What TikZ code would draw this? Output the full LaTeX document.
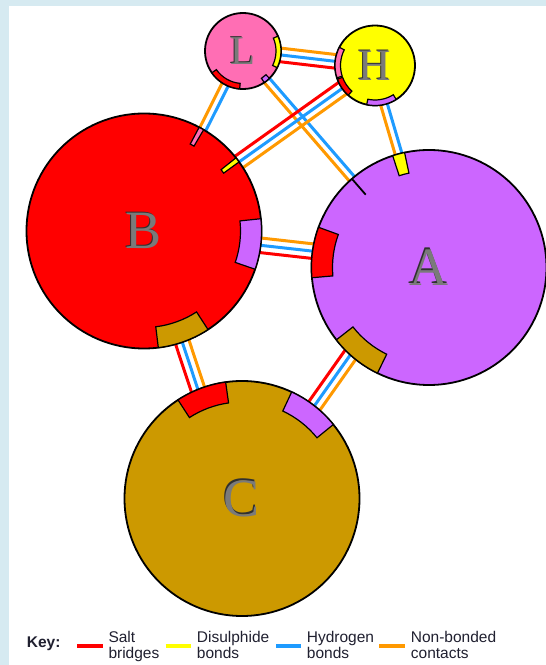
\documentclass[tikz,border=0pt]{standalone}
\usepackage{fontspec}
\setmainfont{Liberation Serif}
\setsansfont{Liberation Sans}
\usetikzlibrary{calc,backgrounds}
\definecolor{frameblue}{HTML}{D6EAF1}
\definecolor{sred}{HTML}{FF0000}
\definecolor{dyellow}{HTML}{FFFF00}
\definecolor{hblue}{HTML}{1E9BFF}
\definecolor{nborange}{HTML}{FF9900}
\definecolor{lpink}{HTML}{FF6EB4}
\definecolor{apurple}{HTML}{CC66FF}
\definecolor{cbrown}{HTML}{CC9900}
\definecolor{letgray}{HTML}{7A7A7A}
\definecolor{letdark}{HTML}{303030}
\definecolor{keytext}{HTML}{202030}
\tikzset{
  chain/.style={circle, draw=black, line width=1.8pt, inner sep=0pt, outer sep=0pt},
  bondline/.style={line width=3pt, shorten <=-4pt, shorten >=-4pt},
  patchst/.style={draw=black, line width=1.2pt},
  letfront/.style={text=letgray, inner sep=0pt},
  letshadow/.style={text=letdark, inner sep=0pt},
  keyline/.style={line width=4pt},
  keytxt/.style={font=\sffamily\fontsize{15.5}{16}\selectfont, text=keytext, inner sep=0pt, anchor=base west},
}
\newcommand\bond[4]{\draw[bondline, #3] ($(#1)!#4pt!90:(#2)$) -- ($(#2)!#4pt!-90:(#1)$);}
\newcommand\patch[6]{\filldraw[patchst, fill=#6] ($(#1)+({#3}:{#2})$) arc[start angle={#3}, end angle={#4}, radius={#2}] -- ($(#1)+({#4}:{#2-#5})$) arc[start angle={#4}, end angle={#3}, radius={#2-#5}] -- cycle;}
\newcommand\biglet{\fontsize{54}{54}\selectfont}
\begin{document}
\begin{tikzpicture}[x=1pt,y=1pt]
\useasboundingbox (0,0) rectangle (546,665);
% chains
\node[chain, fill=lpink, minimum size=76pt] (L) at (243,614) {};
\node[chain, fill=dyellow, minimum size=80pt] (H) at (375,599.5) {};
\node[chain, fill=sred, minimum size=235pt] (B) at (144,434) {};
\node[chain, fill=apurple, minimum size=235pt] (A) at (429,397.5) {};
\node[chain, fill=cbrown, minimum size=235pt] (C) at (242,166.5) {};
% frame and bonds
\begin{scope}[on background layer]
\fill[white] (0,0) rectangle (546,665);
\fill[frameblue] (0,659) rectangle (546,665);
\fill[frameblue] (0,0) rectangle (9,665);
% L-A
\bond{L.-51.5}{A.131}{hblue}{3.4}
\bond{L.-51.5}{A.131}{nborange}{-3.4}
% L-H
\bond{L.-6}{H.174}{nborange}{6.8}
\bond{L.-6}{H.174}{hblue}{0}
\bond{L.-6}{H.174}{sred}{-6.8}
% L-B
\bond{L.242}{B.60}{nborange}{-3.4}
\bond{L.242}{B.60}{hblue}{3.4}
% H-B
\bond{H.215}{B.36.5}{sred}{-7}
\bond{H.215}{B.36.5}{hblue}{0}
\bond{H.215}{B.36.5}{nborange}{7}
% H-A
\bond{H.-77}{A.105}{nborange}{-3.4}
\bond{H.-77}{A.105}{hblue}{3.4}
% B-A
\bond{B.-7}{A.172}{nborange}{7.3}
\bond{B.-7}{A.172}{hblue}{0}
\bond{B.-7}{A.172}{sred}{-7.3}
% B-C
\bond{B.-71}{C.112}{sred}{-7}
\bond{B.-71}{C.112}{hblue}{0}
\bond{B.-71}{C.112}{nborange}{7}
% A-C
\bond{A.228}{C.52.5}{sred}{-7}
\bond{A.228}{C.52.5}{hblue}{0}
\bond{A.228}{C.52.5}{nborange}{7}
\end{scope}
% patches
\patch{L}{38}{-26}{23}{5}{dyellow}
\patch{L}{38}{-56}{-46}{5}{apurple}
\patch{L}{38}{215}{265}{5.5}{sred}
\patch{H}{40}{153}{198}{5.5}{lpink}
\patch{H}{40}{200}{228}{5.5}{sred}
\patch{H}{40}{-102}{-58}{5.5}{apurple}
\patch{B}{117.5}{59.5}{62}{19}{lpink}
\patch{B}{117.5}{36}{38.5}{19}{dyellow}
\patch{B}{117.5}{-19}{6}{21}{apurple}
\patch{B}{117.5}{-83}{-57}{21}{cbrown}
\patch{A}{117.5}{102}{108}{21}{dyellow}
\patch{A}{117.5}{160}{185}{21}{sred}
\patch{A}{117.5}{218}{244}{21}{cbrown}
\draw[line width=1.8pt] ($(A)+(131:117.5)$) -- ($(A)+(131:96.5)$);
\patch{C}{117.5}{98}{123}{21}{sred}
\patch{C}{117.5}{39}{65}{21}{apurple}
% letters
\node[letshadow, font=\fontsize{41}{41}\selectfont] at ($(L)+(-1.2,1.2)$) {L};
\node[letfront, font=\fontsize{41}{41}\selectfont] (Llab) at (L) {L};
\node[letshadow, font=\fontsize{45}{45}\selectfont] at ($(H)+(-1.2,1.2)$) {H};
\node[letfront, font=\fontsize{45}{45}\selectfont] (Hlab) at (H) {H};
\node[letshadow, font=\biglet] at ($(B)+(-1.5,1.5)$) {B};
\node[letfront, font=\biglet] (Blab) at (B) {B};
\node[letshadow, font=\biglet] at ($(A)+(-1.5,1.5)$) {A};
\node[letfront, font=\biglet] (Alab) at (A) {A};
\node[letshadow, font=\biglet] at ($(C)+(-1.5,1.5)$) {C};
\node[letfront, font=\biglet] (Clab) at (C) {C};
% key
\node[keytxt, font=\sffamily\bfseries\fontsize{15.5}{16}\selectfont] (key) at (26.7,17) {Key:};
\coordinate (kr1) at (77,19); \coordinate (kr2) at (103,19);
\coordinate (ky1) at (165.7,19); \coordinate (ky2) at (191,19);
\coordinate (kb1) at (276,19); \coordinate (kb2) at (301,19);
\coordinate (ko1) at (379,19); \coordinate (ko2) at (405,19);
\draw[keyline, sred] (kr1) -- (kr2);
\draw[keyline, dyellow] (ky1) -- (ky2);
\draw[keyline, hblue] (kb1) -- (kb2);
\draw[keyline, nborange] (ko1) -- (ko2);
\node[keytxt] (t1a) at (108.3,22.2) {Salt};
\node[keytxt] (t1b) at (108.3,6.2) {bridges};
\node[keytxt] (t2a) at (196.7,22.2) {Disulphide};
\node[keytxt] (t2b) at (196.7,6.2) {bonds};
\node[keytxt] (t3a) at (306.7,22.2) {Hydrogen};
\node[keytxt] (t3b) at (306.7,6.2) {bonds};
\node[keytxt] (t4a) at (410.7,22.2) {Non-bonded};
\node[keytxt] (t4b) at (410.7,6.2) {contacts};
\end{tikzpicture}
\end{document}
